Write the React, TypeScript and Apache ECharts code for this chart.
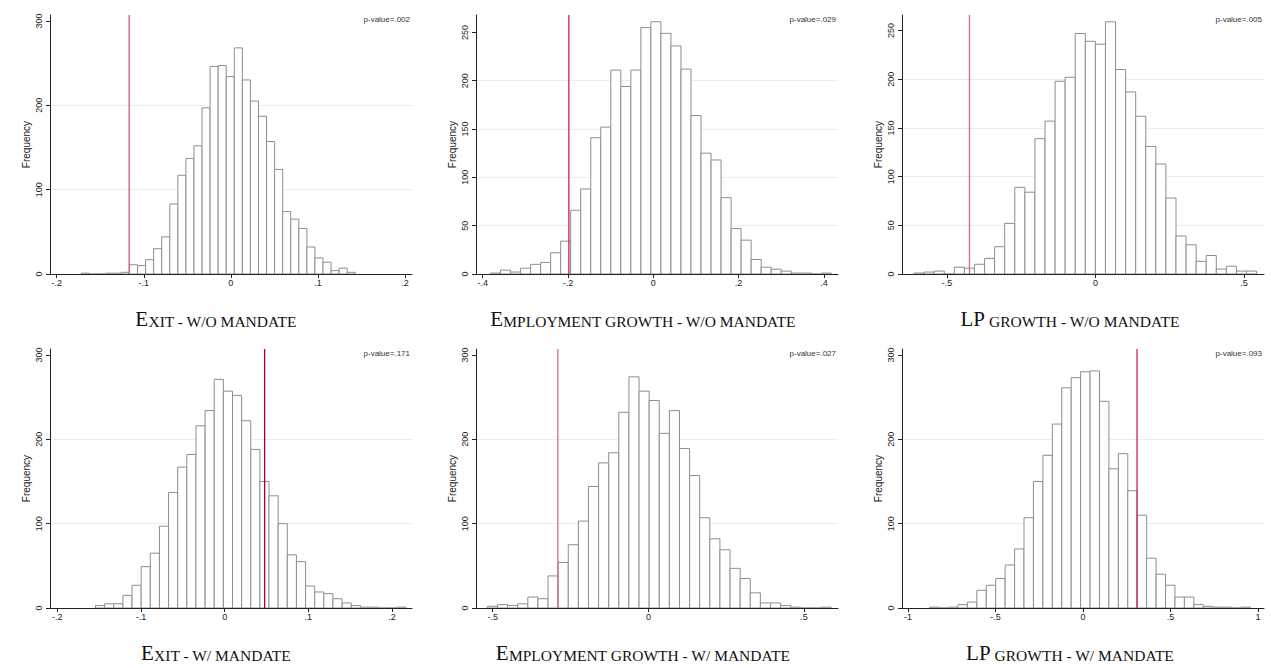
import React, { useEffect, useRef } from 'react';
import * as echarts from 'echarts';

// 34 bins per histogram
const exitWoCounts = [1, 0, 0, 1, 1, 2, 11, 10, 17, 30, 44, 83, 117, 137, 152, 197, 246, 247, 234, 268, 230, 205, 187, 157, 124, 74, 65, 54, 32, 19, 14, 4, 7, 2];
const empWoCounts = [1, 4, 2, 6, 10, 12, 22, 34, 66, 88, 141, 152, 211, 194, 211, 255, 261, 249, 236, 212, 164, 125, 118, 79, 47, 35, 15, 7, 5, 3, 1, 1, 0, 1];
const lpWoCounts = [1, 2, 3, 0, 7, 6, 10, 16, 28, 52, 89, 84, 139, 157, 198, 202, 247, 239, 236, 259, 210, 187, 162, 131, 113, 78, 39, 30, 13, 19, 5, 8, 3, 3];
const exitWCounts = [3, 5, 5, 15, 27, 49, 65, 97, 137, 167, 182, 216, 234, 271, 257, 252, 222, 188, 150, 133, 100, 63, 55, 26, 19, 17, 11, 6, 3, 1, 1, 0, 0, 1];
const empWCounts = [2, 4, 3, 5, 13, 11, 38, 54, 75, 103, 144, 172, 184, 232, 274, 257, 246, 207, 234, 189, 157, 107, 82, 69, 47, 35, 18, 6, 6, 3, 1, 0, 0, 1];
const lpWCounts = [1, 0, 1, 4, 7, 21, 27, 35, 51, 70, 107, 150, 181, 218, 261, 273, 280, 281, 245, 165, 183, 139, 110, 59, 40, 27, 13, 13, 4, 2, 1, 1, 0, 1];

const binStarts = [-0.172, -0.3816, -0.6105, -0.1544, -0.517, -0.876];
const binWidths = [0.00926, 0.0235, 0.0339, 0.01092, 0.03247, 0.0539];
const observed = [-0.1168, -0.1979, -0.424, 0.0478, -0.2908, 0.3086];
const pValues = ['p-value=.002', 'p-value=.029', 'p-value=.005', 'p-value=.171', 'p-value=.027', 'p-value=.093'];

const xMins = [-0.2077, -0.4156, -0.651, -0.2088, -0.5536, -1.034];
const xMaxs = [0.208, 0.433, 0.567, 0.224, 0.609, 1.034];
const yMaxs = [307, 268, 266, 307, 307, 307];
const xTicks = [
  [-0.2, -0.1, 0, 0.1, 0.2],
  [-0.4, -0.2, 0, 0.2, 0.4],
  [-0.5, 0, 0.5],
  [-0.2, -0.1, 0, 0.1, 0.2],
  [-0.5, 0, 0.5],
  [-1, -0.5, 0, 0.5, 1]
];
const yTicks = [
  [0, 100, 200, 300],
  [0, 50, 100, 150, 200, 250],
  [0, 50, 100, 150, 200, 250],
  [0, 100, 200, 300],
  [0, 100, 200, 300],
  [0, 100, 200, 300]
];
const titleCaps = ['E', 'E', 'LP', 'E', 'E', 'LP'];
const titleRest = [
  'XIT - W/O MANDATE',
  'MPLOYMENT GROWTH - W/O MANDATE',
  ' GROWTH - W/O MANDATE',
  'XIT - W/ MANDATE',
  'MPLOYMENT GROWTH - W/ MANDATE',
  ' GROWTH - W/ MANDATE'
];

const allCounts = [exitWoCounts, empWoCounts, lpWoCounts, exitWCounts, empWCounts, lpWCounts];
const lineColors = ['#e2557a', '#d8194c', '#d9668a', '#a3002b', '#dc6a8c', '#cf2450'];

const colLefts = [50, 476, 902];
const colWidth = 362;
const rowTops = [15, 349];
const rowHeight = 259;
const titleX = [216, 643, 1070];
const titleY = [329, 663];

const stataFmt = (v: number) => {
  if (v === 0) return '0';
  const s = String(Math.abs(v)).replace(/^0/, '');
  return (v < 0 ? '-' : '') + s;
};

const App: React.FC = () => {
  const chartRef = useRef<HTMLDivElement>(null);

  useEffect(() => {
    if (!chartRef.current) return;
    const chart = echarts.init(chartRef.current, undefined, { renderer: 'svg' });

    const grids: any[] = [];
    const xAxes: any[] = [];
    const yAxes: any[] = [];
    const series: any[] = [];
    const graphics: any[] = [];

    allCounts.forEach((counts, i) => {
      const col = i % 3;
      const row = Math.floor(i / 3);
      const left = colLefts[col];
      const top = rowTops[row];
      grids.push({ left, top, width: colWidth, height: rowHeight });

      xAxes.push({
        type: 'value',
        gridIndex: i,
        min: xMins[i],
        max: xMaxs[i],
        z: 5,
        axisLine: { show: true, onZero: false, lineStyle: { color: '#222', width: 1 } },
        axisTick: { show: true, length: 4, customValues: xTicks[i], lineStyle: { color: '#222' } },
        axisLabel: {
          customValues: xTicks[i],
          formatter: stataFmt,
          fontFamily: 'Liberation Sans',
          fontSize: 9,
          color: '#222',
          margin: 4
        },
        splitLine: { show: false }
      });

      yAxes.push({
        type: 'value',
        gridIndex: i,
        min: 0,
        max: yMaxs[i],
        interval: yTicks[i][1],
        name: 'Frequency',
        nameLocation: 'middle',
        nameGap: 19,
        nameTextStyle: { fontFamily: 'Liberation Sans', fontSize: 10, color: '#222' },
        axisLine: { show: true, onZero: false, lineStyle: { color: '#222', width: 1 } },
        axisTick: { show: true, length: 4, customValues: yTicks[i], lineStyle: { color: '#222' } },
        axisLabel: {
          customValues: yTicks[i],
          rotate: 90,
          fontFamily: 'Liberation Sans',
          fontSize: 9,
          color: '#222',
          margin: 7
        },
        splitLine: { show: true, showMinLine: false, showMaxLine: false, lineStyle: { color: '#e6eeee', width: 1 } }
      });

      const bins = counts.map((n, k) => [
        binStarts[i] + k * binWidths[i],
        binStarts[i] + (k + 1) * binWidths[i],
        n
      ]);

      series.push({
        type: 'custom',
        xAxisIndex: i,
        yAxisIndex: i,
        data: bins,
        encode: { x: [0, 1], y: 2 },
        renderItem: (_params: any, api: any) => {
          const p0 = api.coord([api.value(0), api.value(2)]);
          const p1 = api.coord([api.value(1), 0]);
          return {
            type: 'rect',
            shape: { x: p0[0], y: p0[1], width: p1[0] - p0[0], height: p1[1] - p0[1] },
            style: { fill: '#fff', stroke: '#8e8e8e', lineWidth: 1 }
          };
        }
      });

      series.push({
        type: 'line',
        xAxisIndex: i,
        yAxisIndex: i,
        symbol: 'none',
        z: 4,
        lineStyle: { color: lineColors[i], width: 1.3 },
        data: [
          [observed[i], 0],
          [observed[i], yMaxs[i]]
        ]
      });

      graphics.push({
        type: 'text',
        x: left + colWidth - 2,
        y: top + 4,
        style: {
          text: pValues[i],
          align: 'right',
          verticalAlign: 'middle',
          fontFamily: 'Liberation Sans',
          fontSize: 8,
          fill: '#333'
        }
      });

      graphics.push({
        type: 'text',
        x: titleX[col],
        y: titleY[row],
        style: {
          text: `{c|${titleCaps[i]}}{s|${titleRest[i]}}`,
          align: 'center',
          verticalAlign: 'bottom',
          rich: {
            c: { fontFamily: 'Liberation Serif', fontSize: 21, fill: '#111', verticalAlign: 'bottom', lineHeight: 22 },
            s: { fontFamily: 'Liberation Serif', fontSize: 15.5, fill: '#111', verticalAlign: 'bottom', lineHeight: 22 }
          }
        }
      });
    });

    const option: echarts.EChartsOption = {
      animation: false,
      backgroundColor: '#fff',
      grid: grids,
      xAxis: xAxes,
      yAxis: yAxes,
      series,
      graphic: graphics
    };

    chart.setOption(option);

    return () => {
      chart.dispose();
    };
  }, []);

  return (
    <div
      ref={chartRef}
      style={{ position: 'fixed', left: 0, top: 0, width: '1271px', height: '668px' }}
    />
  );
};

export default App;
